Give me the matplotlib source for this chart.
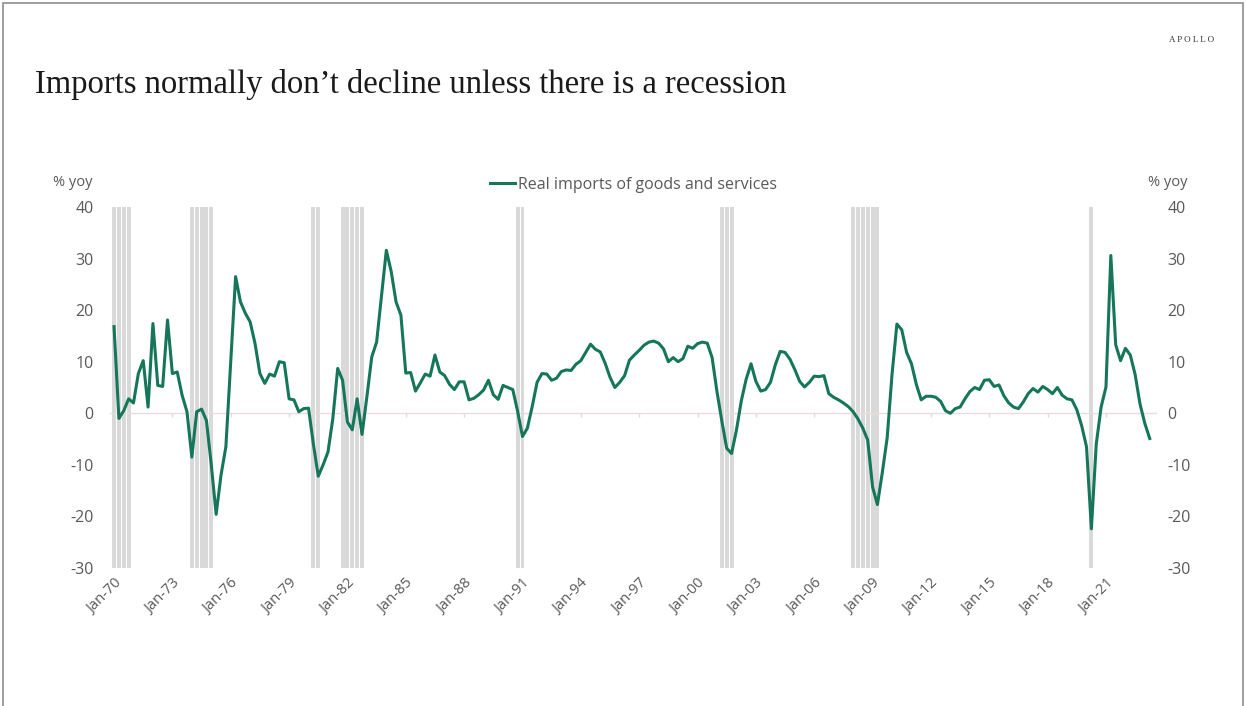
import matplotlib
matplotlib.use('Agg')
import matplotlib.pyplot as plt
import numpy as np
import pandas as pd
from matplotlib.patches import Rectangle

# Real imports of goods and services, % yoy, quarterly from 1970Q1
imports_yoy = [
    16.8, -1.0, 0.5, 2.8,      # 1970
    2.0, 7.7, 10.2, 1.2,       # 1971
    17.4, 5.4, 5.2, 18.1,      # 1972
    7.7, 8.0, 3.5, 0.3,        # 1973
    -8.5, 0.3, 0.8, -1.4,      # 1974
    -10.0, -19.6, -12.0, -6.5, # 1975
    10.0, 26.5, 21.6, 19.4,    # 1976
    17.7, 13.5, 7.7, 5.8,      # 1977
    7.6, 7.2, 10.0, 9.8,       # 1978
    2.8, 2.6, 0.3, 0.9,        # 1979
    1.0, -6.0, -12.2, -10.0,   # 1980
    -7.5, -1.0, 8.7, 6.4,      # 1981
    -1.7, -3.2, 2.8, -4.1,     # 1982
    3.2, 10.9, 13.8, 22.6,     # 1983
    31.6, 27.5, 21.6, 19.0,    # 1984
    7.8, 7.9, 4.3, 5.9,        # 1985
    7.6, 7.2, 11.3, 8.0,       # 1986
    7.3, 5.6, 4.6, 6.1,        # 1987
    6.1, 2.6, 2.9, 3.6,        # 1988
    4.5, 6.4, 3.6, 2.7,        # 1989
    5.4, 5.0, 4.6, 0.4,        # 1990
    -4.5, -2.9, 1.3, 6.0,      # 1991
    7.7, 7.6, 6.4, 6.8,        # 1992
    8.1, 8.4, 8.3, 9.5,        # 1993
    10.2, 11.8, 13.4, 12.4,    # 1994
    11.9, 9.7, 7.0, 5.0,       # 1995
    6.0, 7.3, 10.3, 11.3,      # 1996
    12.2, 13.2, 13.8, 14.0,    # 1997
    13.6, 12.5, 10.0, 10.8,    # 1998
    10.0, 10.6, 13.0, 12.6,    # 1999
    13.5, 13.8, 13.6, 10.8,    # 2000
    4.2, -1.5, -6.8, -7.8,     # 2001
    -3.3, 2.4, 6.6, 9.6,       # 2002
    6.2, 4.3, 4.6, 6.0,        # 2003
    9.4, 12.0, 11.8, 10.5,     # 2004
    8.5, 6.2, 5.1, 6.0,        # 2005
    7.2, 7.1, 7.3, 3.8,        # 2006
    3.1, 2.6, 2.0, 1.3,        # 2007
    0.3, -1.1, -2.9, -5.2,     # 2008
    -14.3, -17.7, -11.5, -4.8, # 2009
    7.5, 17.3, 16.2, 11.8,     # 2010
    9.6, 5.6, 2.6, 3.3,        # 2011
    3.3, 3.1, 2.3, 0.5,        # 2012
    0.0, 0.9, 1.2, 2.8,        # 2013
    4.2, 5.0, 4.6, 6.4,        # 2014
    6.5, 5.2, 5.5, 3.4,        # 2015
    2.0, 1.2, 0.9, 2.2,        # 2016
    3.8, 4.8, 4.1, 5.2,        # 2017
    4.6, 3.8, 5.0, 3.5,        # 2018
    2.8, 2.6, 0.7, -2.4,       # 2019
    -6.5, -22.4, -6.0, 1.2,    # 2020
    5.1, 30.6, 13.3, 10.2,     # 2021
    12.6, 11.3, 7.5, 1.8,      # 2022
    -2.0, -4.9,                # 2023
]

# NBER recession quarters (first, last)
recession_spans = [
    ('1970Q1', '1970Q4'),
    ('1974Q1', '1975Q1'),
    ('1980Q2', '1980Q3'),
    ('1981Q4', '1982Q4'),
    ('1990Q4', '1991Q1'),
    ('2001Q2', '2001Q4'),
    ('2008Q1', '2009Q2'),
    ('2020Q2', '2020Q2'),
]

tick_years = list(range(1970, 2022, 3))
tick_labels = [f'Jan-{y % 100:02d}' for y in tick_years]
y_ticks = list(range(-30, 41, 10))

GREEN = '#15765a'
GREY_TXT = '#595959'
BAR_GREY = '#d9d9d9'
FONT = 'Open Sans'


def to_year(periods):
    return periods.year + (periods.quarter - 1) / 4.0


quarters = pd.period_range('1970Q1', periods=len(imports_yoy), freq='Q')
xq = np.asarray(to_year(quarters), dtype=float)

rec_q = pd.PeriodIndex(
    [p for a, b in recession_spans for p in pd.period_range(a, b, freq='Q')])
xr = np.asarray(to_year(rec_q), dtype=float)

fig = plt.figure(figsize=(12.46, 7.06), dpi=100)
ax = fig.add_axes([0.0884, 0.1955, 0.8398, 0.5113])
ax.set_xlim(1969.8, 2023.6)
ax.set_ylim(-30, 40)

# recession shading, one thin column per quarter
ax.bar(xr, 70, bottom=-30, width=0.2, color=BAR_GREY, zorder=1)

# zero line with small year ticks
ax.axhline(0, color='#eadcdc', lw=1.0, zorder=2)
ax.vlines(tick_years, -0.8, 0, color='#e3dada', lw=1.0, zorder=2)

ax.plot(xq, imports_yoy, color=GREEN, lw=2.2, solid_joinstyle='round',
        label='Real imports of goods and services', zorder=3)

for s in ax.spines.values():
    s.set_visible(False)

ax.set_xticks(tick_years)
ax.set_xticklabels(tick_labels, rotation=45, ha='right', va='top',
                   rotation_mode='anchor', color=GREY_TXT, fontsize=10.5,
                   family=FONT)
ax.tick_params(axis='x', length=0, pad=6)

ax.set_yticks(y_ticks)
ax.set_yticklabels([str(v) for v in y_ticks], color=GREY_TXT, fontsize=11.5,
                   family=FONT)
ax.tick_params(axis='y', length=0, pad=12)

ax2 = ax.twinx()
ax2.set_ylim(ax.get_ylim())
ax2.set_yticks(y_ticks)
ax2.set_yticklabels([str(v) for v in y_ticks], color=GREY_TXT, fontsize=11.5,
                    family=FONT)
ax2.tick_params(axis='y', length=0, pad=8)
for s in ax2.spines.values():
    s.set_visible(False)

leg = ax.legend(loc='lower center', bbox_to_anchor=(0.5, 1.0), frameon=False,
                handlelength=1.55, handletextpad=0.2,
                prop={'family': FONT, 'size': 11.5})
for t in leg.get_texts():
    t.set_color(GREY_TXT)

fig.text(73 / 1246, 1 - 182 / 706, '% yoy', ha='center', va='center',
         color=GREY_TXT, fontsize=10.5, family=FONT)
fig.text(1168 / 1246, 1 - 182 / 706, '% yoy', ha='center', va='center',
         color=GREY_TXT, fontsize=10.5, family=FONT)

fig.text(35 / 1246, 1 - 84 / 706,
         'Imports normally don\u2019t decline unless there is a recession',
         ha='left', va='center', fontsize=23.5, family='Liberation Serif',
         color='#1a1a1a')
fig.text(1192 / 1246, 1 - 40 / 706, 'A P O L L O', ha='center', va='center',
         fontsize=6.5, family='Liberation Serif', color='#333333')

# thin frame round the slide
fig.patches.append(Rectangle((3 / 1246, -0.01), 1240 / 1246, 1 - 3 / 706 + 0.01,
                             transform=fig.transFigure, fill=False,
                             edgecolor='#8c8c8c', lw=1.2))

fig.savefig('out.png', dpi=100)
